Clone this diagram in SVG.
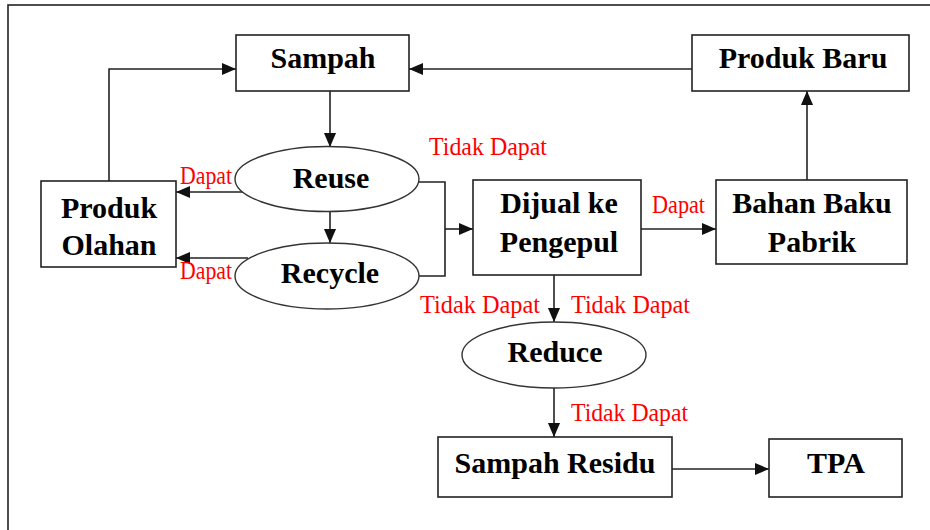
<svg xmlns="http://www.w3.org/2000/svg" width="930" height="530" viewBox="0 0 930 530">
  <style>
    .box { fill: #fff; stroke: #222; stroke-width: 1.6; }
    .oval { fill: #fff; stroke: #333; stroke-width: 1.4; }
    .lbl { font-family: "Liberation Serif", "Times New Roman", serif; font-weight: bold; font-size: 30px; fill: #000; text-anchor: middle; }
    .note { font-family: "Liberation Serif", "Times New Roman", serif; font-size: 25px; fill: #ff0000; }
    .wire { fill: none; stroke: #222; stroke-width: 1.6; }
  </style>
  <defs>
    <marker id="arrow" markerUnits="userSpaceOnUse" markerWidth="14" markerHeight="14" viewBox="0 0 12 12" refX="12" refY="6" orient="auto">
      <path d="M0,0.8 L12,6 L0,11.2 Z" fill="#111"/>
    </marker>
  </defs>

  <rect x="0" y="0" width="930" height="530" fill="#fff"/>
  <!-- outer frame -->
  <rect x="8" y="5" width="940" height="540" fill="none" stroke="#222" stroke-width="1.6"/>

  <!-- connectors -->
  <g id="connectors">
    <path class="wire" d="M109,181 V69 H236" marker-end="url(#arrow)"/>
    <path class="wire" d="M692,69 H409" marker-end="url(#arrow)"/>
    <path class="wire" d="M330,91 V147" marker-end="url(#arrow)"/>
    <path class="wire" d="M330,212 V243" marker-end="url(#arrow)"/>
    <path class="wire" d="M243,192 H176" marker-end="url(#arrow)"/>
    <path class="wire" d="M248,258 H176" marker-end="url(#arrow)"/>
    <path class="wire" d="M419,182 H445 V276 H419"/>
    <path class="wire" d="M445,229 H473" marker-end="url(#arrow)"/>
    <path class="wire" d="M641,229 H716" marker-end="url(#arrow)"/>
    <path class="wire" d="M807,180 V91" marker-end="url(#arrow)"/>
    <path class="wire" d="M554,275 V322" marker-end="url(#arrow)"/>
    <path class="wire" d="M554,388 V437" marker-end="url(#arrow)"/>
    <path class="wire" d="M672,469 H769" marker-end="url(#arrow)"/>
  </g>

  <!-- edge labels -->
  <g id="labels">
    <text class="note" x="180" y="184" textLength="52" lengthAdjust="spacingAndGlyphs">Dapat</text>
    <text class="note" x="180" y="279" textLength="52" lengthAdjust="spacingAndGlyphs">Dapat</text>
    <text class="note" x="429" y="155" textLength="118" lengthAdjust="spacingAndGlyphs">Tidak Dapat</text>
    <text class="note" x="652" y="213" textLength="53" lengthAdjust="spacingAndGlyphs">Dapat</text>
    <text class="note" x="420" y="313" textLength="120" lengthAdjust="spacingAndGlyphs">Tidak Dapat</text>
    <text class="note" x="571" y="313" textLength="119" lengthAdjust="spacingAndGlyphs">Tidak Dapat</text>
    <text class="note" x="571" y="421" textLength="117" lengthAdjust="spacingAndGlyphs">Tidak Dapat</text>
  </g>

  <g id="sampah">
    <rect class="box" x="236" y="35" width="173" height="56"/>
    <text class="lbl" x="323" y="68">Sampah</text>
  </g>
  <g id="produk-baru">
    <rect class="box" x="692" y="35" width="217" height="56"/>
    <text class="lbl" x="803" y="68">Produk Baru</text>
  </g>
  <g id="produk-olahan">
    <rect class="box" x="41" y="181" width="135" height="86"/>
    <text class="lbl" x="109" y="218">Produk</text>
    <text class="lbl" x="109" y="255">Olahan</text>
  </g>
  <g id="reuse">
    <ellipse class="oval" cx="327" cy="179" rx="92" ry="32.5"/>
    <text class="lbl" x="331" y="188">Reuse</text>
  </g>
  <g id="recycle">
    <ellipse class="oval" cx="327" cy="276" rx="92" ry="33"/>
    <text class="lbl" x="330" y="283">Recycle</text>
  </g>
  <g id="dijual">
    <rect class="box" x="473" y="180" width="168" height="95"/>
    <text class="lbl" x="559" y="213">Dijual ke</text>
    <text class="lbl" x="559" y="252">Pengepul</text>
  </g>
  <g id="bahan-baku">
    <rect class="box" x="716" y="180" width="191" height="84"/>
    <text class="lbl" x="812" y="213">Bahan Baku</text>
    <text class="lbl" x="812" y="252">Pabrik</text>
  </g>
  <g id="reduce">
    <ellipse class="oval" cx="554" cy="355" rx="92" ry="33"/>
    <text class="lbl" x="555" y="362">Reduce</text>
  </g>
  <g id="sampah-residu">
    <rect class="box" x="438" y="437" width="234" height="60"/>
    <text class="lbl" x="555" y="473">Sampah Residu</text>
  </g>
  <g id="tpa">
    <rect class="box" x="769" y="439" width="133" height="58"/>
    <text class="lbl" x="836" y="473">TPA</text>
  </g>
</svg>
